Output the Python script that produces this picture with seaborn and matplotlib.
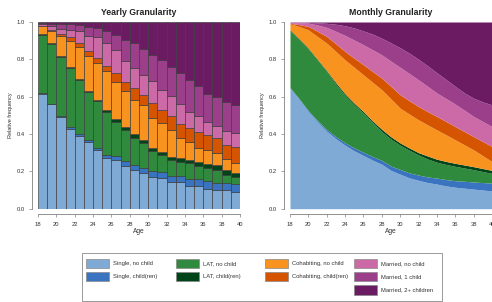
import numpy as np
import pandas as pd
import seaborn as sns
import matplotlib.pyplot as plt
from matplotlib.patches import Rectangle

states = ["Single, no child", "Single, child(ren)", "LAT, no child", "LAT, child(ren)",
          "Cohabiting, no child", "Cohabiting, child(ren)", "Married, no child",
          "Married, 1 child", "Married, 2+ children"]
colors = ["#7eaad5", "#3a74c0", "#2f8a3d", "#00441a", "#f7931e", "#d55400",
          "#cc69a7", "#9c3f8b", "#6b1b62"]

# yearly bars: upper edge of each band (the top band always ends at 1.0)
yr_ages = list(range(18, 40))
yr_single_nc = [0.615, 0.560, 0.490, 0.428, 0.388, 0.355, 0.313, 0.270, 0.260, 0.231, 0.208,
                0.190, 0.172, 0.163, 0.141, 0.141, 0.123, 0.122, 0.107, 0.100, 0.098, 0.090]
yr_single_ch = [0.618, 0.563, 0.495, 0.437, 0.400, 0.367, 0.327, 0.288, 0.280, 0.253, 0.235,
                0.217, 0.203, 0.195, 0.177, 0.177, 0.160, 0.160, 0.147, 0.140, 0.138, 0.132]
yr_lat_nc = [0.932, 0.884, 0.812, 0.753, 0.690, 0.624, 0.575, 0.520, 0.467, 0.422, 0.377,
             0.350, 0.310, 0.288, 0.261, 0.252, 0.243, 0.230, 0.220, 0.208, 0.179, 0.172]
yr_lat_ch = [0.936, 0.888, 0.817, 0.760, 0.697, 0.630, 0.583, 0.530, 0.481, 0.440, 0.398,
             0.369, 0.327, 0.306, 0.279, 0.270, 0.261, 0.252, 0.238, 0.234, 0.208, 0.192]
yr_coh_nc = [0.978, 0.952, 0.926, 0.900, 0.866, 0.820, 0.780, 0.735, 0.681, 0.628, 0.583,
             0.556, 0.485, 0.458, 0.422, 0.378, 0.356, 0.327, 0.315, 0.297, 0.267, 0.243]
yr_coh_ch = [0.981, 0.958, 0.935, 0.918, 0.887, 0.845, 0.805, 0.766, 0.726, 0.681, 0.645,
             0.610, 0.565, 0.530, 0.499, 0.453, 0.431, 0.410, 0.396, 0.378, 0.342, 0.329]
yr_mar_nc = [0.990, 0.976, 0.965, 0.958, 0.950, 0.925, 0.918, 0.887, 0.851, 0.790, 0.753,
             0.717, 0.682, 0.637, 0.601, 0.560, 0.520, 0.499, 0.467, 0.445, 0.417, 0.404]
yr_mar_1 = [0.996, 0.990, 0.988, 0.987, 0.985, 0.975, 0.970, 0.953, 0.930, 0.905, 0.885,
            0.855, 0.824, 0.798, 0.757, 0.726, 0.690, 0.655, 0.613, 0.596, 0.574, 0.556]

# monthly areas: upper edge of each band, read at every year of age
mo_ages = list(range(18, 41))
mo_single_nc = [0.646, 0.585, 0.520, 0.465, 0.415, 0.375, 0.340, 0.310, 0.285, 0.260, 0.238, 0.205,
                0.185, 0.165, 0.152, 0.140, 0.132, 0.122, 0.115, 0.110, 0.105, 0.100, 0.095]
mo_single_ch = [0.649, 0.589, 0.525, 0.472, 0.424, 0.386, 0.353, 0.325, 0.302, 0.279, 0.259, 0.228,
                0.210, 0.192, 0.180, 0.170, 0.164, 0.156, 0.150, 0.147, 0.143, 0.140, 0.137]
mo_lat_nc = [0.954, 0.906, 0.856, 0.796, 0.736, 0.667, 0.607, 0.557, 0.512, 0.462, 0.413, 0.373,
             0.340, 0.313, 0.288, 0.266, 0.249, 0.237, 0.227, 0.218, 0.209, 0.199, 0.189]
mo_lat_ch = [0.958, 0.910, 0.860, 0.800, 0.740, 0.675, 0.615, 0.565, 0.520, 0.470, 0.425, 0.385,
             0.352, 0.325, 0.300, 0.282, 0.265, 0.253, 0.243, 0.234, 0.225, 0.215, 0.205]
mo_coh_nc = [0.990, 0.976, 0.958, 0.922, 0.887, 0.842, 0.797, 0.757, 0.717, 0.677, 0.637, 0.588,
             0.538, 0.507, 0.476, 0.449, 0.422, 0.396, 0.369, 0.342, 0.315, 0.284, 0.252]
mo_coh_ch = [0.993, 0.986, 0.976, 0.950, 0.923, 0.883, 0.842, 0.806, 0.771, 0.735, 0.699, 0.655,
             0.610, 0.578, 0.547, 0.520, 0.494, 0.467, 0.440, 0.413, 0.386, 0.360, 0.333]
mo_mar_nc = [0.997, 0.996, 0.994, 0.984, 0.971, 0.950, 0.928, 0.903, 0.878, 0.851, 0.824, 0.790,
             0.757, 0.724, 0.690, 0.655, 0.619, 0.590, 0.560, 0.527, 0.494, 0.467, 0.440]
mo_mar_1 = [0.999, 0.999, 0.998, 0.996, 0.993, 0.988, 0.980, 0.968, 0.952, 0.935, 0.913, 0.888,
            0.862, 0.833, 0.800, 0.765, 0.728, 0.692, 0.655, 0.620, 0.592, 0.572, 0.556]

sns.set_style("ticks")
plt.rcParams["font.family"] = ["Liberation Sans", "DejaVu Sans"]
TXT = "#333333"
AX = "#808080"

fig = plt.figure(figsize=(4.92, 3.02), dpi=100)
W, H = 492, 302
ax1 = fig.add_axes([38 / W, (H - 208.7) / H, 202 / W, 186.7 / H])
ax2 = fig.add_axes([290 / W, (H - 208.7) / H, 202 / W, 186.7 / H])

# yearly stacked bars
yr_tops = np.array([yr_single_nc, yr_single_ch, yr_lat_nc, yr_lat_ch, yr_coh_nc,
                    yr_coh_ch, yr_mar_nc, yr_mar_1, [1.0] * len(yr_ages)])
yr_shares = np.diff(np.vstack([np.zeros(len(yr_ages)), yr_tops]), axis=0)
rows = []
for s, state in enumerate(states):
    for a, age in enumerate(yr_ages):
        rows.append((age + 0.5, state, yr_shares[s, a]))
df_year = pd.DataFrame(rows, columns=["age", "state", "share"])

sns.histplot(data=df_year, x="age", weights="share", hue="state", hue_order=states[::-1],
             palette=dict(zip(states, colors)), multiple="stack", bins=22, binrange=(18, 40),
             edgecolor="#3a3a3a", linewidth=0.45, alpha=1, legend=False, ax=ax1)

# monthly stacked areas
mo_tops = np.array([mo_single_nc, mo_single_ch, mo_lat_nc, mo_lat_ch, mo_coh_nc,
                    mo_coh_ch, mo_mar_nc, mo_mar_1, [1.0] * len(mo_ages)])
mo_shares = np.diff(np.vstack([np.zeros(len(mo_ages)), mo_tops]), axis=0)
ax2.stackplot(mo_ages, mo_shares, colors=colors, linewidth=0)

for ax, title in [(ax1, "Yearly Granularity"), (ax2, "Monthly Granularity")]:
    ax.set_xlim(18, 40)
    ax.set_ylim(0, 1)
    ax.set_xticks(range(18, 41, 2))
    ax.set_yticks([0, 0.2, 0.4, 0.6, 0.8, 1.0])
    ax.set_yticklabels(["0.0", "0.2", "0.4", "0.6", "0.8", "1.0"])
    ax.tick_params(labelsize=4.2, length=2, width=0.5, color=AX, labelcolor=TXT, pad=3.5)
    ax.set_title(title, fontsize=6.3, fontweight="bold", color="#222222", pad=5)
    ax.set_xlabel("Age", fontsize=4.8, color=TXT)
    ax.set_ylabel("Relative frequency", fontsize=4.0, color=TXT)
    ax.xaxis.set_label_coords(0.5, -0.105)
    ax.yaxis.set_label_coords(-0.125, 0.5)
    sns.despine(ax=ax, offset=4)
    for sp in ("left", "bottom"):
        ax.spines[sp].set_color(AX)
        ax.spines[sp].set_linewidth(0.6)

# legend box drawn in pixel positions of the figure
fig.patches.append(Rectangle((81.7 / W, (H - 300.5) / H), 360 / W, 47.2 / H,
                             transform=fig.transFigure, fill=False, edgecolor="#999999", linewidth=0.7))
col_x = [86, 176, 265, 354]
row_y = [263.3, 276.5, 289.7]
slots = [(0, 0), (0, 1), (1, 0), (1, 1), (2, 0), (2, 1), (3, 0), (3, 1), (3, 2)]
for (c, r), state, col in zip(slots, states, colors):
    x, y = col_x[c], row_y[r]
    fig.patches.append(Rectangle((x / W, (H - y - 4.8) / H), 22.5 / W, 9.6 / H,
                                 transform=fig.transFigure, facecolor=col,
                                 edgecolor="#888888", linewidth=0.5))
    fig.text((x + 27) / W, (H - y) / H, state, fontsize=4.2, color=TXT, va="center", ha="left")

fig.savefig("out.png", dpi=100)
